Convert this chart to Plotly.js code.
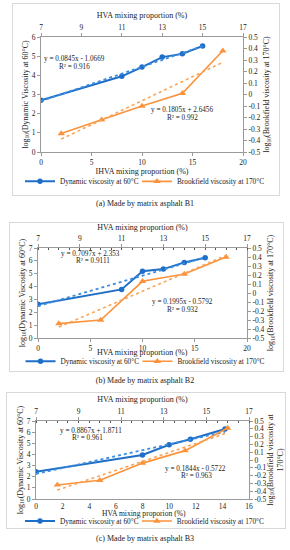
<!DOCTYPE html>
<html><head><meta charset="utf-8">
<script src="https://cdn.plot.ly/plotly-3.0.1.min.js"></script>
<style>
html,body{margin:0;padding:0;background:#fff;width:290px;height:550px;overflow:hidden;}
.panel{position:absolute;outline:1px solid #d9d9d9;background:#fff;}
.cap{position:absolute;left:0;width:290px;text-align:center;font-family:"Liberation Serif","Times New Roman",serif;font-size:8px;color:#222;line-height:10px;}
</style></head><body>
<div id="pa" class="panel"></div>
<div id="pb" class="panel"></div>
<div id="pc" class="panel"></div>
<div id="ca" class="cap"></div>
<div id="cb" class="cap"></div>
<div id="cc" class="cap"></div>
<script>
// ---------- data ----------
const captions = ['(a) Made by matrix asphalt B1', '(b) Made by matrix asphalt B2', '(c) Made by matrix asphalt B3'];
const dynName = 'Dynamic viscosity at 60°C';
const brkName = 'Brookfield viscosity at 170°C';

const dynX_B1 = [0, 8, 10, 12, 14, 16];
const dynY_B1 = [2.70, 3.95, 4.43, 4.95, 5.12, 5.53];
const brkX_B1 = [8, 10, 12, 14, 16];
const brkY_B1 = [-0.34, -0.22, -0.10, 0.01, 0.38];

const dynX_B2 = [0, 8, 10, 12, 14, 16];
const dynY_B2 = [2.62, 3.78, 5.20, 5.36, 5.88, 6.24];
const brkX_B2 = [8, 10, 12, 14, 16];
const brkY_B2 = [-0.34, -0.30, 0.13, 0.21, 0.40];

const dynX_B3 = [0, 8, 10, 11.6, 14.2];
const dynY_B3 = [2.45, 3.95, 4.87, 5.36, 6.28];
const brkX_B3 = [8, 10, 12, 14, 16];
const brkY_B3 = [-0.32, -0.26, -0.04, 0.12, 0.41];

const eqDyn = [['y = 0.0845x - 1.0669', 'R² = 0.916'], ['y = 0.7097x + 2.353', 'R² = 0.9111'], ['y = 0.8867x + 1.8711', 'R² = 0.961']];
const eqBrk = [['y = 0.1805x + 2.6456', 'R² = 0.992'], ['y = 0.1995x - 0.5792', 'R² = 0.932'], ['y = 0.1844x - 0.5722', 'R² = 0.963']];

const bottomTitles = ['IHVA mixing proportion (%)', 'HVA mixing proportion (%)', 'HVA mixing proporion (%)'];
const topTitle = 'HVA mixing proportion (%)';
const leftTitle = 'log<sub>10</sub>(Dynamic Viscosity at 60°C)';
const rightTitles = ['log<sub>10</sub>(Brookfield viscosity at 170°C)', 'log<sub>10</sub>(Brookfield viscosity at 170°C)', 'log<sub>10</sub>(Brookfield viscosity at<br>170°C)'];
const rightTickVals = [-0.5, -0.4, -0.3, -0.2, -0.1, 0, 0.1, 0.2, 0.3, 0.4, 0.5];
const rightTickText = ['-0.5', '-0.4', '-0.3', '-0.2', '-0.1', '0', '0.1', '0.2', '0.3', '0.4', '0.5'];

// ---------- styling / geometry ----------
const BLUE = '#1f6fc8', BLUE_T = '#3b8de0', ORANGE = '#fb923c', ORANGE_T = '#f9a456';
const FONT = 'Liberation Serif, Times New Roman, serif';
const AX = '#9a9a9a';

const panels = [
  {id:'pa', cap:'ca', box:{l:13,t:4,w:266,h:191}, plot:{x0:41,x1:243,y0:37,y1:152.5}, bx:[0,20], bdt:5, ly:[0,6], legY:182, capY:204,
   eq1:[[74.5,59.3],[74.5,66.7]], eq2:[[182,110],[182,118.3]], minor:false, btAnn:null, bticks:'outside', btSize:8,
   dynX:dynX_B1, dynY:dynY_B1, brkX:brkX_B1, brkY:brkY_B1},
  {id:'pb', cap:'cb', box:{l:10,t:223,w:273,h:148}, plot:{x0:37.5,x1:246.7,y0:247.7,y1:337.7}, bx:[0,20], bdt:5, ly:[0,7], legY:361, capY:381,
   eq1:[[90.5,254],[93,261]], eq2:[[181.7,301.7],[182,309.3]], minor:true, btAnn:[142,352.3], bticks:'outside', btSize:8,
   dynX:dynX_B2, dynY:dynY_B2, brkX:brkX_B2, brkY:brkY_B2},
  {id:'pc', cap:'cc', box:{l:7,t:393,w:278,h:135}, plot:{x0:36,x1:249.3,y0:421,y1:499}, bx:[0,16], bdt:2, ly:[0,7], legY:521, capY:539,
   eq1:[[91.5,431.3],[88,438.3]], eq2:[[196,469.3],[197,476]], minor:true, btAnn:[144,513.8], bticks:'', btSize:7.6,
   dynX:dynX_B3, dynY:dynY_B3, brkX:brkX_B3, brkY:brkY_B3}
];
const LEG1X = 20, LEG2X = 137;

function fit(xs, ys) {
  const n = xs.length;
  const mx = xs.reduce((a,b)=>a+b,0)/n, my = ys.reduce((a,b)=>a+b,0)/n;
  let sxy = 0, sxx = 0;
  for (let i=0;i<n;i++){ sxy += (xs[i]-mx)*(ys[i]-my); sxx += (xs[i]-mx)*(xs[i]-mx); }
  const m = sxy/sxx, c = my - m*mx;
  const x0 = Math.min(...xs), x1 = Math.max(...xs);
  return {x:[x0,x1], y:[m*x0+c, m*x1+c]};
}

panels.forEach((p, i) => {
  const el = document.getElementById(p.id);
  el.style.left = p.box.l+'px'; el.style.top = p.box.t+'px';
  el.style.width = p.box.w+'px'; el.style.height = p.box.h+'px';
  const cap = document.getElementById(p.cap);
  cap.textContent = captions[i];
  cap.style.top = (p.capY - 5)+'px';

  const pw = p.plot.x1 - p.plot.x0, ph = p.plot.y1 - p.plot.y0;
  const px = x => (x - p.plot.x0)/pw;
  const py = y => (p.plot.y1 - y)/ph;

  const tDyn = fit(p.dynX, p.dynY), tBrk = fit(p.brkX, p.brkY);
  const traces = [
    {x:p.dynX, y:p.dynY, xaxis:'x', yaxis:'y', type:'scatter', mode:'lines+markers', name:dynName, legend:'legend',
     line:{color:BLUE, width:2}, marker:{symbol:'circle', size:5.5, color:BLUE}},
    {x:tDyn.x, y:tDyn.y, xaxis:'x', yaxis:'y', type:'scatter', mode:'lines', showlegend:false, hoverinfo:'skip',
     line:{color:BLUE_T, width:1.8, dash:'dot'}},
    {x:p.brkX, y:p.brkY, xaxis:'x2', yaxis:'y2', type:'scatter', mode:'lines+markers', name:brkName, legend:'legend2',
     line:{color:ORANGE, width:1.6}, marker:{symbol:'triangle-up', size:6.5, color:ORANGE}},
    {x:tBrk.x, y:tBrk.y, xaxis:'x2', yaxis:'y2', type:'scatter', mode:'lines', showlegend:false, hoverinfo:'skip',
     line:{color:ORANGE_T, width:1.6, dash:'dot'}}
  ];
  const tf = {family:FONT, size:7.5, color:'#222'};
  const ttf = {family:FONT, size:8, color:'#222'};
  const common = {showline:true, linecolor:AX, linewidth:1.4, showgrid:false, zeroline:false, tickfont:tf,
                  ticks:'outside', ticklen:2.5, tickcolor:AX, tickwidth:1, fixedrange:true, automargin:false};
  const ann = [];
  const mk = (pt, txt, f) => ann.push({xref:'paper', yref:'paper', x:px(pt[0]), y:py(pt[1]), text:txt, showarrow:false,
      xanchor:'center', yanchor:'middle', font:f || {family:FONT, size:7.2, color:'#222'}});
  mk(p.eq1[0], eqDyn[i][0]); mk(p.eq1[1], eqDyn[i][1]);
  mk(p.eq2[0], eqBrk[i][0]); mk(p.eq2[1], eqBrk[i][1]);
  if (p.btAnn) mk(p.btAnn, bottomTitles[i], {family:FONT, size:p.btSize, color:'#222'});

  const legCommon = {orientation:'h', yanchor:'middle', xanchor:'left', y:py(p.legY), xref:'paper', yref:'paper',
                     font:{family:FONT, size:7.3, color:'#222'}, bgcolor:'rgba(0,0,0,0)', itemwidth:30, borderwidth:0};
  const layout = {
    width:p.box.w, height:p.box.h, paper_bgcolor:'rgba(0,0,0,0)', plot_bgcolor:'rgba(0,0,0,0)',
    margin:{l:p.plot.x0-p.box.l, r:p.box.l+p.box.w-p.plot.x1, t:p.plot.y0-p.box.t, b:p.box.t+p.box.h-p.plot.y1, pad:0, autoexpand:false},
    font:{family:FONT, color:'#222'},
    showlegend:true,
    legend:Object.assign({}, legCommon, {x:px(LEG1X)}),
    legend2:Object.assign({}, legCommon, {x:px(LEG2X)}),
    xaxis:Object.assign({}, common, {range:p.bx, dtick:p.bdt, tick0:0, side:'bottom', anchor:'y', ticks:p.bticks,
            title: p.btAnn ? undefined : {text:bottomTitles[i], font:ttf, standoff:1}}),
    xaxis2:Object.assign({}, common, {range:[7,17], dtick:2, tick0:7, side:'top', overlaying:'x', anchor:'y2',
            title:{text:topTitle, font:ttf, standoff:3},
            minor: p.minor ? {dtick:0.5, ticks:'inside', ticklen:2, tickcolor:'#555'} : undefined}),
    yaxis:Object.assign({}, common, {range:p.ly, dtick:1, tick0:0, side:'left', anchor:'x',
            title:{text:leftTitle, font:ttf, standoff:2}}),
    yaxis2:Object.assign({}, common, {range:[-0.5,0.5], tickvals:rightTickVals, ticktext:rightTickText, side:'right', overlaying:'y', anchor:'x2',
            title:{text:rightTitles[i], font:ttf, standoff:4}}),
    annotations:ann
  };
  Plotly.newPlot(el, traces, layout, {staticPlot:true, displayModeBar:false});
});
</script>
</body></html>
